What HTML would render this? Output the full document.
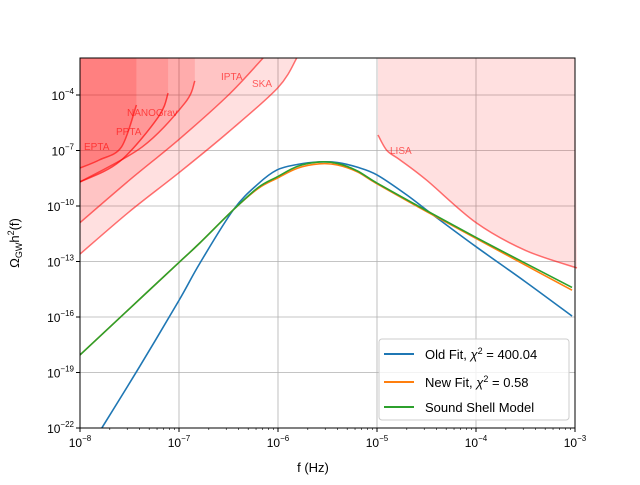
<!DOCTYPE html>
<html><head><meta charset="utf-8"><style>
body{margin:0;background:#fff}
svg{font-family:"Liberation Sans","DejaVu Sans",sans-serif}
</style></head><body>
<svg id="c" width="640" height="480" xmlns="http://www.w3.org/2000/svg">
<g id="grid"></g>
<g id="fills"></g>
<g id="series"></g>
<g id="labels"></g>
<rect x="80" y="58" width="495" height="370" fill="none" stroke="#000" stroke-width="1"/>
<g id="axes"></g>
<text x="313" y="472" font-size="13" text-anchor="middle">f (Hz)</text>
<text transform="translate(19,243) rotate(-90)" font-size="13" text-anchor="middle">Ω<tspan font-size="9" dy="3">GW</tspan><tspan dy="-3">h</tspan><tspan font-size="9" dy="-5">2</tspan><tspan dy="5">(f)</tspan></text>
<g>
<rect x="379" y="339" width="190" height="81" rx="3" fill="#fff" fill-opacity="0.8" stroke="#ccc"/>
<line x1="384" y1="354" x2="414" y2="354" stroke="#1f77b4" stroke-width="2"/>
<text x="425" y="359" font-size="13">Old Fit, <tspan font-style="italic">χ</tspan><tspan font-size="9" dy="-5">2</tspan><tspan dy="5"> = 400.04</tspan></text>
<line x1="384" y1="382" x2="414" y2="382" stroke="#ff7f0e" stroke-width="2"/>
<text x="425" y="387" font-size="13">New Fit, <tspan font-style="italic">χ</tspan><tspan font-size="9" dy="-5">2</tspan><tspan dy="5"> = 0.58</tspan></text>
<line x1="384" y1="407" x2="414" y2="407" stroke="#2ca02c" stroke-width="2"/>
<text x="425" y="412" font-size="13">Sound Shell Model</text>
</g>
</svg>
<script>
// data in log10 units
const xTicks=[-8,-7,-6,-5,-4,-3];
const yTicks=[-22,-19,-16,-13,-10,-7,-4];
const oldFitF=[-7.78,-7.4,-7,-6.79,-6.45,-6.2,-6.01,-5.8,-5.58,-5.4,-5.2,-5,-4.7,-4.43,-4,-3.5,-3.03];
const oldFitO=[-22,-18.7,-15.1,-13.1,-10.2,-8.8,-8.05,-7.75,-7.62,-7.65,-7.9,-8.32,-9.4,-10.5,-12.2,-14.1,-15.95];
const newFitF=[-8,-7.5,-7,-6.79,-6.45,-6.2,-6.01,-5.8,-5.58,-5.4,-5.2,-5,-4.5,-4,-3.5,-3.03];
const newFitO=[-18.05,-15.55,-13.05,-12.0,-10.2,-9.05,-8.5,-7.95,-7.72,-7.78,-8.15,-8.8,-10.3,-11.75,-13.2,-14.55];
const shellF=[-8,-7.5,-7,-6.79,-6.45,-6.2,-6.01,-5.8,-5.58,-5.4,-5.2,-5,-4.5,-4,-3.5,-3.03];
const shellO=[-18.05,-15.55,-13.05,-12.0,-10.2,-9.0,-8.43,-7.85,-7.62,-7.7,-8.1,-8.76,-10.25,-11.7,-13.1,-14.4];
const skaF=[-8,-7.5,-7,-6.5,-6,-5.81];
const skaO=[-12.6,-10.3,-8.2,-6.0,-3.6,-2];
const iptaF=[-8,-7.5,-7,-6.5,-6.15];
const iptaO=[-10.9,-8.6,-6.4,-4.0,-2];
const eptaF=[-8,-7.8,-7.58,-7.43];
const eptaO=[-7.95,-7.5,-6.8,-4.54];
const nanoF=[-8,-7.6,-7.21,-7.11];
const nanoO=[-8.7,-7.6,-5.2,-3.9];
const pptaF=[-8,-7.37,-6.94,-6.84];
const pptaO=[-8.7,-6.8,-4.43,-3.24];
const lisaF=[-4.99,-4.9,-4.77,-4.5,-4,-3.5,-2.98];
const lisaO=[-6.16,-7.0,-7.5,-8.6,-10.9,-12.4,-13.35];
const X=v=>80+99*(v+8);
const Y=v=>428-18.5*(v+22);
const NS='http://www.w3.org/2000/svg';
function mk(tag,attrs,parent){const e=document.createElementNS(NS,tag);for(const k in attrs)e.setAttribute(k,attrs[k]);parent.appendChild(e);return e;}
function smooth(F,O){const p=F.map((f,i)=>[X(f),Y(O[i])]);let d='M'+p[0][0]+','+p[0][1];
 for(let i=0;i<p.length-1;i++){const p0=p[i-1]||p[i],p1=p[i],p2=p[i+1],p3=p[i+2]||p2;
 d+=' C'+(p1[0]+(p2[0]-p0[0])/6)+','+(p1[1]+(p2[1]-p0[1])/6)+' '+(p2[0]-(p3[0]-p1[0])/6)+','+(p2[1]-(p3[1]-p1[1])/6)+' '+p2[0]+','+p2[1];}
 return d;}
const grid=document.getElementById('grid'),axes=document.getElementById('axes');
xTicks.forEach(t=>{
 const g=mk('line',{x1:X(t),x2:X(t),y1:58,y2:428,stroke:'#b0b0b0','stroke-width':0.8},grid);
 
 const tk=mk('line',{x1:X(t),x2:X(t),y1:428,y2:432,stroke:'#000'},axes);
 
 const tx=mk('text',{x:X(t),y:447,'font-size':12,'text-anchor':'middle'},axes);
 
 tx.innerHTML='10<tspan font-size="8" dy="-6">'+(t<0?'−':'')+Math.abs(t)+'</tspan>';
 if(t<-3)for(let k=2;k<10;k++){const xm=X(t+Math.log10(k));const m=mk('line',{x1:xm,x2:xm,y1:428,y2:430,stroke:'#000','stroke-width':0.6},axes);
 }
});
yTicks.forEach(t=>{
 const g=mk('line',{x1:80,x2:575,y1:Y(t),y2:Y(t),stroke:'#b0b0b0','stroke-width':0.8},grid);
 
 const tk=mk('line',{x1:76,x2:80,y1:Y(t),y2:Y(t),stroke:'#000'},axes);
 
 const tx=mk('text',{x:74,y:Y(t)+5,'font-size':12,'text-anchor':'end'},axes);
 
 tx.innerHTML='10<tspan font-size="8" dy="-6">−'+Math.abs(t)+'</tspan>';
});
const fills=document.getElementById('fills');
function region(F,O,name,op,sw,sop){
 const top=Y(-2);
 const d=smooth(F,O)+' L'+X(F[F.length-1])+','+top+' L'+X(F[0])+','+top+' Z';
 const a=mk('path',{d:d,fill:'#ff0000','fill-opacity':op,stroke:'none'},fills);
 
 const l=mk('path',{d:smooth(F,O),fill:'none',stroke:'#ff0000','stroke-opacity':sop,'stroke-width':sw},fills);
 
}
region(skaF,skaO,'ska',0.12,1.5,0.55);
region(iptaF,iptaO,'ipta',0.12,1.5,0.55);
region(pptaF,pptaO,'ppta',0.12,1.5,0.6);
region(nanoF,nanoO,'nanograv',0.12,1.5,0.65);
region(eptaF,eptaO,'epta',0.15,1.5,0.6);
// LISA region (above curve, to right edge)
(function(){const top=Y(-2);const d='M'+X(lisaF[0])+','+top+' L'+smooth(lisaF,lisaO).slice(1)+' L575,'+top+' Z';
 const a=mk('path',{d:d,fill:'#ff0000','fill-opacity':0.12},fills);
 
 const l=mk('path',{d:smooth(lisaF,lisaO),fill:'none',stroke:'#ff0000','stroke-opacity':0.55,'stroke-width':1.5},fills);
 })();
const series=document.getElementById('series');
[[oldFitF,oldFitO,'#1f77b4','old-fit-line'],[newFitF,newFitO,'#ff7f0e','new-fit-line'],[shellF,shellO,'#2ca02c','sound-shell-line']].forEach(s=>{
 const p=mk('path',{d:smooth(s[0],s[1]),fill:'none',stroke:s[2],'stroke-width':1.6},series);
 
});
const labels=document.getElementById('labels');
[['EPTA',84,150],['PPTA',116,135],['NANOGrav',127,116],['IPTA',221,80],['SKA',252,87],['LISA',390,154]].forEach(l=>{
 const t=mk('text',{x:l[1],y:l[2],'font-size':10,fill:'#ff0000','fill-opacity':0.6},labels);
 
 t.textContent=l[0];
});
</script>
</body></html>
